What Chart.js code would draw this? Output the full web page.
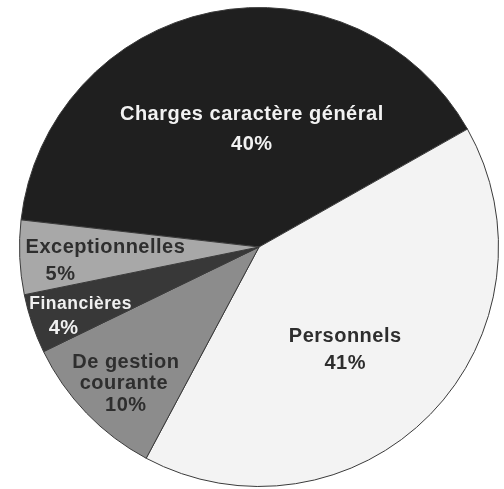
<!DOCTYPE html>
<html>
<head>
<meta charset="utf-8">
<script src="https://cdn.jsdelivr.net/npm/chart.js@4"></script>
<style>
  body { margin: 0; background: #fff; }
  #wrap { width: 504px; height: 489px; }
</style>
</head>
<body>
<div id="wrap"><canvas id="pie" width="504" height="489"></canvas></div>
<script>
// Data (clockwise, starting from the dark slice)
const labels = ["Charges caractère général", "Personnels", "De gestion courante", "Financières", "Exceptionnelles"];
const values = [40, 41, 10, 4, 5];
const labelLines = [
  ["Charges caractère général", "40%"],
  ["Personnels", "41%"],
  ["De gestion", "courante", "10%"],
  ["Financières", "4%"],
  ["Exceptionnelles", "5%"],
];

// Styles
const sliceColors = ["#1f1f1f", "#f3f3f3", "#8c8c8c", "#383838", "#a8a8a8"];
const textColors = ["#f2f2f2", "#2e2e2e", "#2e2e2e", "#f0f0f0", "#2e2e2e"];
// where each label block sits, as a fraction of the radius from the centre
const labelPlace = [
  { fx: -0.03, fy: -0.49, lh: 30, dx: [0, 0], size: [20, 20] },
  { fx: 0.36, fy: 0.43, lh: 27, dx: [0, 0], size: [20, 20] },
  { fx: -0.56, fy: 0.57, lh: 21.5, dx: [1, -1, 1], size: [20, 20, 20] },
  { fx: -0.78, fy: 0.29, lh: 25, dx: [8.5, -8.5], size: [17.5, 20] },
  { fx: -0.735, fy: 0.06, lh: 27, dx: [22.5, -22.5], size: [20, 20] },
];

// draws the text of each slice on top of the pie
const sliceLabels = {
  id: "sliceLabels",
  afterDatasetsDraw(chart) {
    const ctx = chart.ctx;
    const arcs = chart.getDatasetMeta(0).data;
    ctx.save();
    ctx.letterSpacing = "0.5px";
    ctx.textAlign = "center";
    ctx.textBaseline = "middle";
    arcs.forEach((arc, i) => {
      const { x, y, outerRadius } = arc.getProps(["x", "y", "outerRadius"], true);
      const p = labelPlace[i];
      const cx = x + p.fx * outerRadius;
      const cy = y + p.fy * outerRadius;
      const lines = labelLines[i];
      ctx.fillStyle = textColors[i];
      lines.forEach((t, k) => {
        ctx.font = "bold " + p.size[k] + "px 'Liberation Sans', Arial, sans-serif";
        const ly = cy + (k - (lines.length - 1) / 2) * p.lh;
        ctx.fillText(t, cx + (p.dx[k] || 0), ly);
      });
    });
    ctx.restore();
  },
};

new Chart(document.getElementById("pie").getContext("2d"), {
  type: "pie",
  data: {
    labels,
    datasets: [
      {
        data: values,
        backgroundColor: sliceColors,
        borderColor: "#3a3a3a",
        borderWidth: 1,
      },
    ],
  },
  options: {
    responsive: false,
    animation: false,
    devicePixelRatio: 1,
    rotation: 276.5,
    layout: { padding: { left: 14, right: 0, top: 7, bottom: 2 } },
    plugins: {
      legend: { display: false },
      tooltip: { enabled: false },
    },
  },
  plugins: [sliceLabels],
});
</script>
</body>
</html>
